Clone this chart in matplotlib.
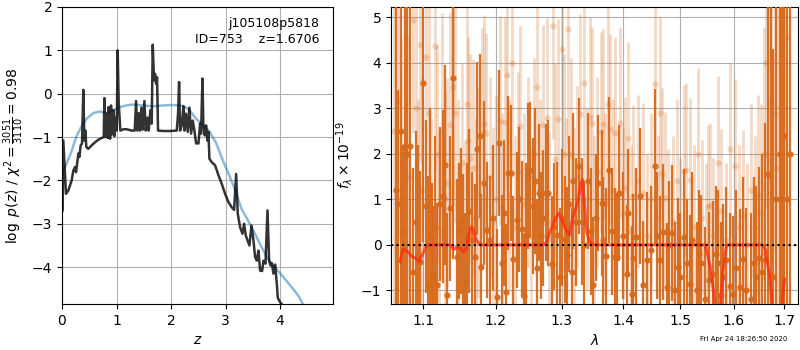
import matplotlib
matplotlib.use("Agg")
import matplotlib.pyplot as plt
from matplotlib.ticker import FixedLocator, NullLocator, FormatStrFormatter

# ---------------- redshift probability (left panel) ----------------
pz_z = [0.012, 0.024, 0.073, 0.116, 0.177, 0.208, 0.239, 0.257, 0.281, 0.300,
        0.318, 0.343, 0.367, 0.391, 0.410, 0.428, 0.446, 0.483, 0.544, 0.606,
        0.667, 0.728, 0.765, 0.777, 0.795, 0.820, 0.838, 0.856, 0.881, 0.899,
        0.917, 0.942, 0.960, 0.985, 1.003, 1.021, 1.040, 1.052, 1.070, 1.125,
        1.187, 1.278, 1.333, 1.358, 1.382, 1.407, 1.431, 1.456, 1.480, 1.511,
        1.535, 1.566, 1.590, 1.621, 1.645, 1.664, 1.688, 1.706, 1.725, 1.743,
        1.761, 1.859, 1.982, 2.104, 2.128, 2.147, 2.165, 2.196, 2.226, 2.245,
        2.275, 2.306, 2.336, 2.367, 2.398, 2.428, 2.459, 2.471, 2.502, 2.532,
        2.550, 2.575, 2.593, 2.618, 2.642, 2.667, 2.685, 2.703, 2.746, 2.807,
        2.869, 2.930, 2.991, 3.052, 3.113, 3.156, 3.193, 3.223, 3.266, 3.309,
        3.339, 3.370, 3.401, 3.437, 3.474, 3.511, 3.541, 3.572, 3.602, 3.633,
        3.670, 3.694, 3.731, 3.768, 3.798, 3.823, 3.847, 3.878, 3.908, 3.939,
        3.957, 4.000, 4.049]
pz_log = [-2.69, -1.08, -2.31, -2.23, -2.00, -1.77, -1.69, -1.81, -1.58, -1.38,
          -1.46, -1.19, -1.15, 0.09, -1.08, -0.85, -1.23, -1.27, -1.19, -1.12,
          -1.06, -1.02, -1.00, -0.10, -1.00, -0.46, -1.02, -0.31, -1.04, -0.27,
          -0.94, -0.38, -0.98, -0.55, -0.85, 1.00, -0.23, -0.46, -0.85, -0.82,
          -0.82, -0.85, -0.85, -0.17, -0.85, -0.45, -0.85, -0.32, -0.83, -0.17,
          -0.85, -0.55, -0.85, -0.38, -0.69, 1.13, 0.31, 0.46, 0.23, 0.38,
          -0.85, -0.86, -0.86, -0.85, -0.46, 0.27, -0.85, -0.73, -0.29, -0.85,
          -0.46, -0.88, -0.32, -0.92, -0.62, -0.85, -1.15, -1.12, -1.15, -0.69,
          -0.92, 0.35, -0.77, -0.96, -0.73, -1.08, -0.88, -1.50, -1.58, -1.65,
          -1.88, -2.08, -2.31, -2.50, -2.62, -2.68, -1.85, -2.77, -3.08, -3.23,
          -3.00, -3.27, -3.38, -3.50, -3.04, -3.38, -3.77, -3.85, -3.62, -4.08,
          -4.09, -3.85, -3.92, -2.69, -3.85, -3.96, -3.91, -4.15, -3.94, -4.38,
          -4.71, -4.81, -4.88]

prior_z = [0.00, 0.08, 0.17, 0.26, 0.35, 0.45, 0.57, 0.69, 0.81, 0.94,
           1.06, 1.18, 1.30, 1.49, 1.67, 1.86, 2.04, 2.22, 2.34, 2.46,
           2.59, 2.71, 2.83, 2.95, 3.08, 3.20, 3.29, 3.41, 3.54, 3.66,
           3.78, 3.90, 4.06, 4.21, 4.33, 4.42]
prior_log = [-1.85, -1.62, -1.35, -1.00, -0.77, -0.58, -0.45, -0.41, -0.45, -0.38,
             -0.31, -0.27, -0.25, -0.27, -0.29, -0.27, -0.26, -0.28, -0.38, -0.58,
             -0.73, -0.88, -1.15, -1.54, -1.92, -2.31, -2.65, -2.92, -3.23, -3.54,
             -3.81, -4.00, -4.23, -4.46, -4.65, -4.86]

# ---------------- 1D spectrum (right panel), units of 1e-19 ----------------
dark_wave = [1.0640, 1.0673, 1.0705, 1.0730, 1.0759, 1.0790, 1.0825, 1.0860, 1.0895, 1.0925,
             1.0956, 1.1000, 1.1031, 1.1067, 1.1090, 1.1111, 1.1133, 1.1160, 1.1187, 1.1220,
             1.1259, 1.1291, 1.1314, 1.1359, 1.1405, 1.1451, 1.1480, 1.1511, 1.1534, 1.1567,
             1.1600, 1.1628, 1.1670, 1.1712, 1.1740, 1.1778, 1.1792, 1.1835, 1.1873, 1.1921,
             1.1970, 1.2017, 1.2056, 1.2090, 1.2120, 1.2153, 1.2188, 1.2222, 1.2261, 1.2310,
             1.2350, 1.2385, 1.2420, 1.2450, 1.2485, 1.2510, 1.2550, 1.2586, 1.2620, 1.2647,
             1.2680, 1.2713, 1.2749, 1.2790, 1.2841, 1.2880, 1.2919, 1.2971, 1.3010, 1.3050,
             1.3076, 1.3120, 1.3155, 1.3181, 1.3230, 1.3271, 1.3314, 1.3360, 1.3421, 1.3460,
             1.3502, 1.3540, 1.3584, 1.3639, 1.3670, 1.3705, 1.3766, 1.3810, 1.3860, 1.3899,
             1.3932, 1.3990, 1.4056, 1.4084, 1.4141, 1.4169, 1.4226, 1.4284, 1.4341, 1.4399,
             1.4469, 1.4545, 1.4590, 1.4633, 1.4692, 1.4751, 1.4800, 1.4852, 1.4910, 1.4960,
             1.5002, 1.5063, 1.5120, 1.5172, 1.5203, 1.5295, 1.5340, 1.5387, 1.5449, 1.5530,
             1.5605, 1.5650, 1.5700, 1.5750, 1.5795, 1.5858, 1.5920, 1.5986, 1.6050, 1.6115,
             1.6180, 1.6245, 1.6330, 1.6400, 1.6442, 1.6495, 1.6560, 1.6620, 1.6675, 1.6730,
             1.6776, 1.6840, 1.6911, 1.6960, 1.7000, 1.7060, 1.7123]
dark_flux = [1.20, 0.90, 2.50, 0.30, 2.17, 2.00, 2.17, -0.60, 0.50, -0.20,
             -0.37, 3.57, 0.85, -0.88, 0.20, -0.63, -0.75, 0.40, -0.88, 0.90,
             1.07, 1.76, -1.10, 0.80, 3.68, -0.26, 0.30, 0.53, -0.04, -0.81,
             0.20, 0.75, 0.10, -0.26, 2.11, 2.39, -0.48, 1.36, 0.33, 0.11,
             0.60, -1.14, 2.24, -0.40, 0.70, -1.03, 1.58, 1.58, -0.32, 0.55,
             1.00, 0.35, -1.13, 0.20, 1.51, 1.65, 0.85, 1.40, -0.50, 1.15,
             0.20, 0.59, 1.15, 1.14, -0.42, 0.40, 0.22, -0.70, 0.60, 0.12,
             -0.22, 0.90, -0.59, 1.40, 0.50, 1.73, 0.51, 0.00, 1.40, 0.30,
             -0.88, 0.60, 1.36, 0.92, 0.10, -0.24, 1.65, 0.30, -0.26, -0.26,
             1.14, 0.20, -0.63, 0.70, -1.08, -0.28, 0.18, 1.07, -0.88, -0.33,
             -0.11, 1.73, 0.20, -0.33, 0.28, -0.92, 0.00, 0.26, -1.00, -0.48,
             -0.70, 0.17, -0.40, -0.85, 0.11, -1.00, -0.20, -0.40, -1.20, -0.77,
             -0.63, -0.20, -0.40, -1.10, -0.70, -0.33, -0.90, -1.07, -0.50, -0.92,
             -0.30, -1.00, -1.20, -0.40, -0.70, -0.29, -0.60, -0.33, 1.56, -0.67,
             -0.70, 1.00, 1.99, 1.00, 2.39, 1.00, 2.00]
dark_err = [6.0, 2.5, 6.0, 1.9, 4.5, 6.0, 3.5, 2.3, 2.0, 2.4,
            2.0, 3.5, 1.9, 2.4, 2.8, 2.0, 1.6, 2.0, 1.8, 1.7,
            1.9, 2.2, 1.8, 1.6, 4.0, 1.7, 1.5, 1.6, 1.6, 1.5,
            1.6, 1.8, 1.5, 1.6, 1.9, 1.8, 1.6, 1.8, 1.5, 1.4,
            1.6, 1.5, 1.6, 1.5, 1.6, 1.5, 1.7, 1.5, 1.4, 1.5,
            1.6, 1.5, 1.4, 1.6, 1.6, 1.5, 1.5, 1.6, 1.5, 1.5,
            1.4, 1.5, 1.5, 1.6, 1.5, 1.4, 1.6, 1.5, 1.5, 1.4,
            1.5, 1.5, 1.4, 1.5, 1.4, 1.5, 1.4, 1.4, 1.5, 1.4,
            1.5, 1.4, 1.5, 1.6, 1.4, 1.5, 1.6, 1.4, 1.5, 1.4,
            1.5, 1.4, 1.5, 1.4, 1.5, 1.4, 1.5, 1.5, 1.4, 1.5,
            1.4, 1.7, 1.4, 1.4, 1.5, 1.4, 1.4, 1.5, 1.5, 1.5,
            1.4, 1.5, 1.4, 1.5, 1.5, 1.5, 1.4, 1.5, 1.6, 1.5,
            1.6, 1.5, 1.6, 1.6, 1.6, 1.6, 1.6, 1.7, 1.7, 1.7,
            1.8, 1.8, 1.9, 1.9, 2.0, 2.0, 2.6, 3.0, 4.0, 6.0,
            5.0, 7.0, 6.0, 7.0, 7.0, 7.0, 8.0]

light_wave = [1.0620, 1.0673, 1.0700, 1.0773, 1.0810, 1.0868, 1.0900, 1.0930, 1.0956, 1.0985,
              1.1031, 1.1075, 1.1100, 1.1156, 1.1185, 1.1215, 1.1250, 1.1285, 1.1314, 1.1359,
              1.1405, 1.1428, 1.1470, 1.1520, 1.1560, 1.1590, 1.1613, 1.1637, 1.1684, 1.1720,
              1.1754, 1.1802, 1.1840, 1.1864, 1.1921, 1.1960, 1.2000, 1.2065, 1.2100, 1.2138,
              1.2163, 1.2200, 1.2236, 1.2290, 1.2330, 1.2360, 1.2420, 1.2485, 1.2530, 1.2570,
              1.2611, 1.2660, 1.2713, 1.2764, 1.2800, 1.2867, 1.2893, 1.2945, 1.2997, 1.3030,
              1.3060, 1.3102, 1.3140, 1.3200, 1.3240, 1.3287, 1.3352, 1.3400, 1.3448, 1.3475,
              1.3520, 1.3560, 1.3623, 1.3656, 1.3700, 1.3749, 1.3777, 1.3830, 1.3860, 1.3944,
              1.3990, 1.4028, 1.4085, 1.4130, 1.4170, 1.4250, 1.4342, 1.4400, 1.4470, 1.4545,
              1.4600, 1.4633, 1.4662, 1.4721, 1.4780, 1.4870, 1.4930, 1.5000, 1.5063, 1.5111,
              1.5172, 1.5240, 1.5325, 1.5400, 1.5470, 1.5511, 1.5542, 1.5600, 1.5700, 1.5763,
              1.5840, 1.5922, 1.6018, 1.6100, 1.6180, 1.6260, 1.6340, 1.6410, 1.6475, 1.6541,
              1.6600, 1.6642, 1.6700, 1.6742, 1.6810, 1.6844, 1.6900, 1.6960, 1.7034]
light_flux = [2.50, 3.16, 1.00, 4.55, 1.50, 4.95, 3.00, 0.70, 4.39, 1.20,
              4.14, 2.89, 0.60, 4.37, 2.00, 0.30, 2.50, 1.00, 1.37, 2.63,
              3.48, 2.90, 0.90, 1.80, 0.00, 3.09, 2.28, 1.90, 1.69, 0.60,
              1.14, 2.46, 2.65, 2.45, 1.50, 0.50, 1.00, 2.73, 0.80, 2.70,
              3.74, 1.10, 3.99, 0.40, 1.60, 2.61, 0.90, 1.60, 0.20, 2.00,
              3.48, 1.20, 2.64, 2.79, 0.50, 4.82, 1.88, 2.76, 4.30, 2.00,
              0.80, 4.74, 2.00, 0.60, 1.50, 2.87, 3.57, 1.00, 2.82, 2.69,
              0.40, 1.60, 2.48, 2.65, 0.90, 3.09, 2.54, 1.20, 2.46, 2.69,
              0.70, 1.25, 2.35, 0.30, 1.07, 1.40, 1.13, 0.20, 1.00, 3.54,
              0.60, 2.90, 1.55, 1.03, 0.30, 0.50, 1.40, 0.10, 1.62, 1.65,
              1.43, 0.40, 1.99, 0.60, 0.00, 0.84, 0.88, 0.20, 1.81, 0.74,
              0.10, 2.10, 1.74, 0.40, 0.63, 0.00, 1.20, 0.40, 1.10, 0.70,
              2.00, 4.00, 1.50, 3.10, 2.87, 1.69, 2.00, 1.00, 4.58]
light_err = [5.0, 3.0, 3.5, 2.5, 3.0, 2.5, 2.8, 2.5, 2.6, 2.5,
             2.5, 2.5, 2.2, 2.8, 2.4, 2.2, 2.6, 2.4, 2.3, 2.5,
             2.6, 2.4, 2.3, 2.2, 2.3, 2.4, 2.3, 2.3, 2.4, 2.2,
             2.3, 2.3, 2.4, 2.2, 2.2, 2.1, 2.3, 2.3, 2.1, 2.3,
             2.5, 2.1, 2.5, 2.0, 2.2, 2.2, 2.0, 2.1, 2.0, 2.1,
             2.3, 2.0, 2.2, 2.2, 2.0, 2.5, 2.1, 2.2, 2.4, 2.2,
             2.0, 2.5, 2.1, 2.0, 2.0, 2.2, 2.3, 2.0, 2.2, 2.1,
             2.0, 2.1, 2.2, 2.1, 2.0, 2.2, 2.1, 2.0, 2.1, 2.1,
             1.9, 2.0, 2.1, 1.9, 2.0, 1.9, 2.0, 1.8, 1.9, 2.2,
             1.8, 2.1, 1.9, 1.9, 1.8, 1.9, 1.8, 1.8, 1.9, 1.9,
             1.8, 1.8, 1.9, 1.7, 1.8, 1.8, 1.8, 1.7, 1.9, 1.8,
             1.7, 1.9, 1.9, 1.8, 1.9, 1.8, 1.9, 2.0, 2.2, 2.4,
             2.8, 3.2, 4.0, 3.5, 3.0, 3.5, 5.0, 5.0, 3.5]

model_wave = [1.0695, 1.0715, 1.0735, 1.0770, 1.0810, 1.0850, 1.0900, 1.0945, 1.0990, 1.1030,
              1.1070, 1.1200, 1.1350, 1.1380, 1.1410, 1.1440, 1.1480, 1.1520, 1.1550, 1.1580,
              1.1610, 1.1640, 1.1661, 1.1690, 1.1720, 1.1755, 1.1800, 1.2200, 1.2713, 1.2760,
              1.2816, 1.2880, 1.2940, 1.2990, 1.3050, 1.3118, 1.3172, 1.3253, 1.3307, 1.3330,
              1.3361, 1.3398, 1.3443, 1.3489, 1.3550, 1.4500, 1.5450, 1.5500, 1.5550, 1.5600,
              1.5640, 1.5680, 1.5720, 1.5750, 1.5790, 1.5830, 1.5865, 1.6200, 1.6570, 1.6620,
              1.6670, 1.6710, 1.6760, 1.6820, 1.6880, 1.6940, 1.6980, 1.7010]
model_flux = [-0.37, -0.20, -0.10, -0.12, -0.18, -0.26, -0.30, -0.37, -0.20, -0.05,
              0.00, 0.00, 0.00, -0.02, -0.10, -0.06, -0.05, -0.12, -0.15, -0.10,
              0.15, 0.36, 0.40, 0.28, 0.12, 0.04, 0.00, 0.00, 0.00, 0.05,
              0.29, 0.50, 0.70, 0.60, 0.37, 0.22, 0.59, 0.95, 1.39, 1.43,
              0.88, 0.29, 0.06, 0.01, 0.00, 0.00, 0.00, -0.20, -0.50, -0.90,
              -1.40, -1.90, -1.60, -1.20, -0.60, -0.20, 0.00, 0.00, 0.00, -0.10,
              -0.45, -0.75, -1.30, -2.20, -2.40, -1.60, -1.00, -0.75]

z_ticks = [0, 1, 2, 3, 4]
wave_ticks = [1.1, 1.2, 1.3, 1.4, 1.5, 1.6, 1.7]

spec_color = "#d66a1c"
grid_kw = dict(color="#b0b0b0", linewidth=0.8)

fig = plt.figure(figsize=(8, 3.5), dpi=100)

# ---- p(z) panel ----
ax1 = fig.add_axes([0.0775, 0.1314, 0.3388, 0.8486])
ax1.plot(prior_z, prior_log, color="#1f77b4", alpha=0.5, lw=1.8)
ax1.plot(pz_z, pz_log, color="k", alpha=0.8, lw=1.8)
ax1.set_xlim(0, 4.97)
ax1.set_ylim(-4.85, 2.0)
ax1.set_xticks(z_ticks)
ax1.set_yticks([-4, -3, -2, -1, 0, 1, 2])
ax1.grid(True, **grid_kw)
ax1.set_xlabel("$z$")
ax1.set_ylabel(r"$\log\ p(z)$ / $\chi^2=\frac{3051}{3110}=0.98$")
ax1.text(0.95, 0.965, "j105108p5818\nID=753    z=1.6706", transform=ax1.transAxes,
         ha="right", va="top", fontsize=9, linespacing=1.25)

# ---- spectrum panel ----
ax2 = fig.add_axes([0.489, 0.1314, 0.508, 0.8486])
ax2.set_xscale("log")
ax2.errorbar(light_wave, light_flux, yerr=light_err, color=spec_color, alpha=0.25,
             marker="o", ms=4.5, ls="none", elinewidth=2.0, mew=0, zorder=2)
ax2.errorbar(dark_wave, dark_flux, yerr=dark_err, color=spec_color, alpha=0.95,
             marker="o", ms=4.5, ls="none", elinewidth=1.6, mew=0, zorder=3)
ax2.plot(model_wave, model_flux, color="#ff2a14", alpha=0.75, lw=2.2, zorder=4)
ax2.axhline(0, color="k", ls=":", lw=1.5, zorder=5)
ax2.set_xlim(1.058, 1.728)
ax2.set_ylim(-1.30, 5.23)
ax2.xaxis.set_major_locator(FixedLocator(wave_ticks))
ax2.xaxis.set_major_formatter(FormatStrFormatter("%.1f"))
ax2.xaxis.set_minor_locator(NullLocator())
ax2.set_yticks([-1, 0, 1, 2, 3, 4, 5])
ax2.grid(True, which="major", **grid_kw)
ax2.set_xlabel(r"$\lambda$")
ax2.set_ylabel(r"$f_\lambda\times10^{-19}$")

fig.text(0.984, 0.031, "Fri Apr 24 18:26:50 2020", ha="right", va="center", fontsize=5)

fig.savefig("out.png", dpi=100)
